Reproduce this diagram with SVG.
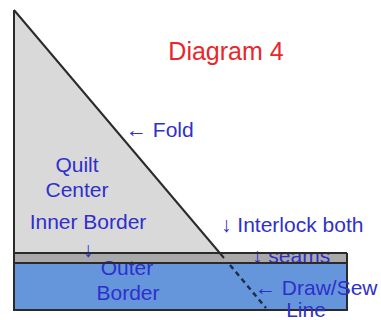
<svg xmlns="http://www.w3.org/2000/svg" width="381" height="320" viewBox="0 0 381 320">
<style>
.lbl{font-family:"Liberation Sans",Arial,sans-serif;font-size:21px;fill:#2f2fcc}
.ttl{font-family:"Liberation Sans",Arial,sans-serif;font-size:25px;fill:#e8262b}
.edge{stroke:#2a2a2a;stroke-width:2;fill:none}
</style>
<rect width="381" height="320" fill="#ffffff"/>
<g id="outer-border">
<rect x="14" y="263" width="333" height="47" fill="#6596dc" stroke="#2a2a2a" stroke-width="2"/>
</g>
<g id="inner-border">
<rect x="14" y="253" width="333" height="10" fill="#a9a9a9"/>
</g>
<g id="quilt-center">
<polygon points="14,10 14,253 219,253" fill="#d9d9d9"/>
</g>
<g id="connectors">
<line x1="14" y1="10" x2="224" y2="258" class="edge"/>
<line x1="14" y1="10" x2="14" y2="310" class="edge"/>
<line x1="230" y1="265" x2="266" y2="308" stroke="#1f2f4a" stroke-width="2.5" stroke-dasharray="5,4"/>
</g>
<g id="labels">
<text class="ttl" x="226" y="60" text-anchor="middle">Diagram 4</text>
<text class="lbl" x="126" y="137">← Fold</text>
<text class="lbl" x="77" y="172" text-anchor="middle">Quilt</text>
<text class="lbl" x="77" y="197" text-anchor="middle">Center</text>
<text class="lbl" x="88" y="229" text-anchor="middle">Inner Border</text>
<text class="lbl" x="88" y="257" text-anchor="middle">↓</text>
<text class="lbl" x="127" y="275" text-anchor="middle">Outer</text>
<text class="lbl" x="128" y="300" text-anchor="middle">Border</text>
<text class="lbl" x="221" y="232">↓ Interlock both</text>
<text class="lbl" x="252" y="263">↓ seams</text>
<text class="lbl" x="255" y="295">← Draw/Sew</text>
<text class="lbl" x="306" y="317" text-anchor="middle">Line</text>
</g>
<g id="strip-lines">
<line x1="14" y1="253" x2="347" y2="253" class="edge"/>
<line x1="14" y1="263" x2="347" y2="263" class="edge"/>
<line x1="347" y1="253" x2="347" y2="263" class="edge"/>
</g>
</svg>
